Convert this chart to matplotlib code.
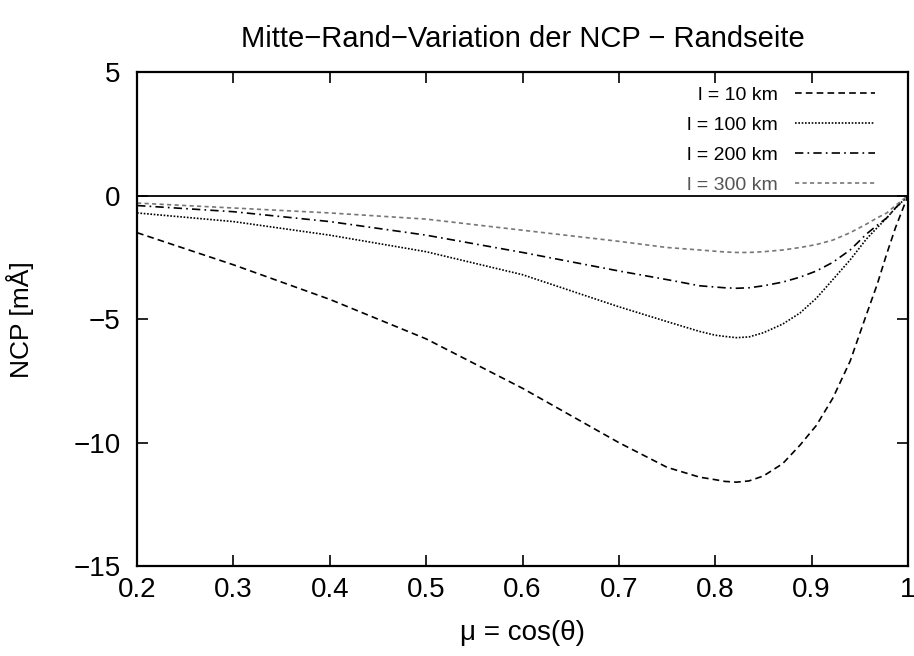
import matplotlib
matplotlib.use("Agg")
import matplotlib.pyplot as plt

plt.rcParams['font.family'] = ['Liberation Sans', 'DejaVu Sans']

mu = [0.2, 0.3, 0.4, 0.5, 0.6, 0.7, 0.75, 0.784, 0.8, 0.81, 0.822, 0.835, 0.85,
      0.87, 0.888, 0.905, 0.922, 0.94, 0.957, 0.968, 0.978, 0.987, 0.995, 1.0]

ncp_10 = [-1.5, -2.8, -4.2, -5.8, -7.8, -10.0, -11.0, -11.4, -11.5, -11.57, -11.6, -11.55, -11.35,
          -10.85, -10.1, -9.3, -8.2, -6.7, -4.8, -3.6, -2.35, -1.3, -0.5, 0.0]
ncp_100 = [-0.7, -1.05, -1.6, -2.27, -3.2, -4.5, -5.1, -5.5, -5.65, -5.7, -5.75, -5.72, -5.55,
           -5.2, -4.75, -4.15, -3.4, -2.6, -1.75, -1.3, -0.9, -0.5, -0.2, 0.0]
ncp_200 = [-0.4, -0.65, -1.05, -1.6, -2.3, -3.05, -3.4, -3.65, -3.7, -3.73, -3.75, -3.73, -3.65,
           -3.5, -3.3, -3.05, -2.7, -2.2, -1.55, -1.2, -0.9, -0.5, -0.2, 0.0]
ncp_300 = [-0.3, -0.5, -0.7, -0.95, -1.4, -1.85, -2.1, -2.2, -2.25, -2.28, -2.3, -2.3, -2.27,
           -2.2, -2.1, -1.98, -1.8, -1.5, -1.15, -0.9, -0.7, -0.4, -0.15, 0.0]

labels = ['l = 10 km', 'l = 100 km', 'l = 200 km', 'l = 300 km']

fig = plt.figure(figsize=(9.14, 6.56), dpi=100)
ax = fig.add_axes([0.150, 0.137, 0.8434, 0.753])

ax.axhline(0, color='black', lw=1.3)
ax.plot(mu, ncp_10, color='black', ls=(0, (4, 2.5)), lw=1.2, label=labels[0])
ax.plot(mu, ncp_100, color='black', ls=(0, (1, 1)), lw=1.2, label=labels[1])
ax.plot(mu, ncp_200, color='black', ls=(0, (5, 2.5, 1, 2.5)), lw=1.2, label=labels[2])
ax.plot(mu, ncp_300, color='#777777', ls=(0, (2.5, 2)), lw=1.2, label=labels[3])

ax.set_xlim(0.2, 1.0)
ax.set_ylim(-15, 5)
ax.set_xticks([0.2, 0.3, 0.4, 0.5, 0.6, 0.7, 0.8, 0.9, 1.0])
ax.set_xticklabels(['0.2', '0.3', '0.4', '0.5', '0.6', '0.7', '0.8', '0.9', '1'])
ax.set_yticks([-15, -10, -5, 0, 5])
ax.set_yticklabels(['\u221215', '\u221210', '\u22125', '0', '5'])
ax.tick_params(direction='in', top=True, right=True, length=8, width=1.2,
               labelsize=20, pad=8)
ax.tick_params(axis='y', pad=12)
for s in ax.spines.values():
    s.set_linewidth(1.6)

ax.set_xlabel('\u03bc = cos(\u03b8)', fontsize=20, labelpad=12)
ax.set_ylabel('NCP [mÅ]', fontsize=19, labelpad=28)
ax.set_title('Mitte\u2212Rand\u2212Variation der NCP \u2212 Randseite', fontsize=21, pad=18)

leg = ax.legend(loc='upper right', bbox_to_anchor=(0.965, 0.984), frameon=False,
                markerfirst=False, fontsize=14, handlelength=4.1, handletextpad=0.9,
                labelspacing=0.65, borderaxespad=0, borderpad=0.3)
for t in leg.get_texts():
    t.set_ha('right')
leg.get_texts()[3].set_color('#555555')

fig.savefig('out.png', dpi=100)
